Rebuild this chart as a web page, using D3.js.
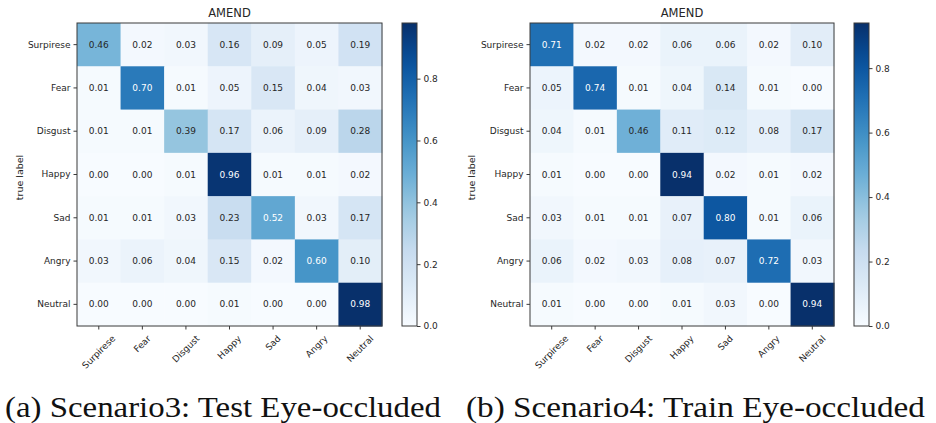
<!DOCTYPE html>
<html>
<head>
<meta charset="utf-8">
<script src="https://cdn.jsdelivr.net/npm/d3@7"></script>
<style>
  html, body { margin: 0; padding: 0; background: #fff; }
  svg { display: block; }
  .tick text { font-family: "DejaVu Sans", sans-serif; fill: #262626; }
  .caption { font-family: "Times New Roman", Times, "Liberation Serif", Tinos, "Nimbus Roman", serif; }
</style>
</head>
<body>
<svg id="fig" width="936" height="423"></svg>
<script>
// Emotion classes (rows = true label, columns = predicted label)
const categories = ["Surpirese", "Fear", "Disgust", "Happy", "Sad", "Angry", "Neutral"];

// Normalised confusion matrix, Scenario3 (test set, eye region occluded)
const testEyeOccluded = [
  [0.46, 0.02, 0.03, 0.16, 0.09, 0.05, 0.19],
  [0.01, 0.70, 0.01, 0.05, 0.15, 0.04, 0.03],
  [0.01, 0.01, 0.39, 0.17, 0.06, 0.09, 0.28],
  [0.00, 0.00, 0.01, 0.96, 0.01, 0.01, 0.02],
  [0.01, 0.01, 0.03, 0.23, 0.52, 0.03, 0.17],
  [0.03, 0.06, 0.04, 0.15, 0.02, 0.60, 0.10],
  [0.00, 0.00, 0.00, 0.01, 0.00, 0.00, 0.98]
];

// Normalised confusion matrix, Scenario4 (train set, eye region occluded)
const trainEyeOccluded = [
  [0.71, 0.02, 0.02, 0.06, 0.06, 0.02, 0.10],
  [0.05, 0.74, 0.01, 0.04, 0.14, 0.01, 0.00],
  [0.04, 0.01, 0.46, 0.11, 0.12, 0.08, 0.17],
  [0.01, 0.00, 0.00, 0.94, 0.02, 0.01, 0.02],
  [0.03, 0.01, 0.01, 0.07, 0.80, 0.01, 0.06],
  [0.06, 0.02, 0.03, 0.08, 0.07, 0.72, 0.03],
  [0.01, 0.00, 0.00, 0.01, 0.03, 0.00, 0.94]
];

const colorbarTicks = [0.0, 0.2, 0.4, 0.6, 0.8];
const plotTitle = "AMEND";
const yAxisTitle = "true label";
const captions = ["(a) Scenario3: Test Eye-occluded", "(b) Scenario4: Train Eye-occluded"];

// ColorBrewer "Blues" stops, interpolated linearly like a segmented colormap
const blues9 = ["#f7fbff", "#deebf7", "#c6dbef", "#9ecae1", "#6baed6",
                "#4292c6", "#2171b5", "#08519c", "#08306b"];

const svg = d3.select("#fig");
const defs = svg.append("defs");
const FS = 9;        // tick / annotation font size
const FRAME = "#3a3a3a";

function drawPanel(cfg, idx) {
  const { matrix, x0, x1, y0, y1, cbX0, cbX1, yLabelX, caption, capX0, capX1 } = cfg;
  const vmax = d3.max(matrix.flat());
  const color = d3.scaleLinear()
    .domain(blues9.map((_, i) => i / (blues9.length - 1) * vmax))
    .range(blues9)
    .clamp(true);

  const x = d3.scaleBand().domain(categories).range([x0, x1]);
  const y = d3.scaleBand().domain(categories).range([y0, y1]);
  const g = svg.append("g");

  const cells = [];
  matrix.forEach((row, i) => row.forEach((v, j) => cells.push({ r: categories[i], c: categories[j], v })));

  g.selectAll("rect.cell").data(cells).join("rect")
    .attr("class", "cell")
    .attr("x", d => x(d.c))
    .attr("y", d => y(d.r))
    .attr("width", x.bandwidth() + 0.5)
    .attr("height", y.bandwidth() + 0.5)
    .attr("fill", d => color(d.v));

  const thresh = vmax / 2;
  g.selectAll("text.val").data(cells).join("text")
    .attr("class", "val")
    .attr("x", d => x(d.c) + x.bandwidth() / 2)
    .attr("y", d => y(d.r) + y.bandwidth() / 2)
    .attr("text-anchor", "middle")
    .attr("dominant-baseline", "central")
    .style("font-family", "'DejaVu Sans', sans-serif")
    .style("font-size", FS + "px")
    .attr("fill", d => d.v > thresh ? "#ffffff" : "#262626")
    .text(d => d.v.toFixed(2));

  // frame
  g.append("rect")
    .attr("x", x0).attr("y", y0)
    .attr("width", x1 - x0).attr("height", y1 - y0)
    .attr("fill", "none").attr("stroke", FRAME).attr("stroke-width", 1);

  // y axis (true label)
  const yAxis = g.append("g")
    .attr("transform", `translate(${x0},0)`)
    .call(d3.axisLeft(y).tickSize(3.5).tickPadding(3));
  yAxis.select(".domain").remove();
  yAxis.selectAll(".tick line").attr("stroke", FRAME);
  yAxis.selectAll(".tick text").style("font-size", FS + "px");

  // x axis (predicted label), rotated labels centred under each tick
  const xAxis = g.append("g")
    .attr("transform", `translate(0,${y1})`)
    .call(d3.axisBottom(x).tickSize(3.5).tickPadding(3));
  xAxis.select(".domain").remove();
  xAxis.selectAll(".tick line").attr("stroke", FRAME);
  xAxis.selectAll(".tick text")
    .style("font-size", FS + "px")
    .attr("text-anchor", "middle")
    .attr("dominant-baseline", "central")
    .attr("dy", null)
    .attr("y", null)
    .attr("transform", function () {
      const w = this.getComputedTextLength();
      const half = (w + FS * 1.1) * Math.SQRT1_2 / 2;
      return `translate(0,${3.5 + 4 + half}) rotate(-45)`;
    });

  // title
  g.append("text")
    .attr("x", (x0 + x1) / 2).attr("y", y0 - 6)
    .attr("text-anchor", "middle")
    .style("font-family", "'DejaVu Sans', sans-serif")
    .style("font-size", "11.5px")
    .attr("fill", "#262626")
    .text(plotTitle);

  // y-axis title
  g.append("text")
    .attr("transform", `translate(${yLabelX},${(y0 + y1) / 2 + 3}) rotate(-90)`)
    .attr("text-anchor", "middle")
    .attr("dominant-baseline", "central")
    .style("font-family", "'DejaVu Sans', sans-serif")
    .style("font-size", "9.5px")
    .attr("fill", "#262626")
    .text(yAxisTitle);

  // colorbar
  const gradId = "cbgrad" + idx;
  const grad = defs.append("linearGradient")
    .attr("id", gradId).attr("x1", 0).attr("y1", 1).attr("x2", 0).attr("y2", 0);
  d3.range(0, 1.0001, 0.05).forEach(t => {
    grad.append("stop").attr("offset", t).attr("stop-color", color(t * vmax));
  });
  g.append("rect")
    .attr("x", cbX0).attr("y", y0)
    .attr("width", cbX1 - cbX0).attr("height", y1 - y0)
    .attr("fill", `url(#${gradId})`)
    .attr("stroke", FRAME).attr("stroke-width", 1);

  const cbScale = d3.scaleLinear().domain([0, vmax]).range([y1, y0]);
  const cbAxis = g.append("g")
    .attr("transform", `translate(${cbX1},0)`)
    .call(d3.axisRight(cbScale).tickValues(colorbarTicks).tickFormat(d3.format(".1f")).tickSize(3.5).tickPadding(3));
  cbAxis.select(".domain").remove();
  cbAxis.selectAll(".tick line").attr("stroke", FRAME);
  cbAxis.selectAll(".tick text").style("font-size", FS + "px");

  // sub-figure caption
  svg.append("text")
    .attr("class", "caption")
    .attr("x", capX0).attr("y", 416.5)
    .attr("textLength", capX1 - capX0)
    .attr("lengthAdjust", "spacingAndGlyphs")
    .style("font-size", "29px")
    .attr("fill", "#111")
    .text(caption);
}

drawPanel({ matrix: testEyeOccluded, x0: 77, x1: 382, y0: 23, y1: 326,
            cbX0: 402, cbX1: 417, yLabelX: 19, caption: captions[0], capX0: 5, capX1: 441 }, 0);
drawPanel({ matrix: trainEyeOccluded, x0: 530, x1: 834, y0: 23, y1: 326,
            cbX0: 854, cbX1: 869, yLabelX: 471, caption: captions[1], capX0: 466, capX1: 925 }, 1);
</script>
</body>
</html>
